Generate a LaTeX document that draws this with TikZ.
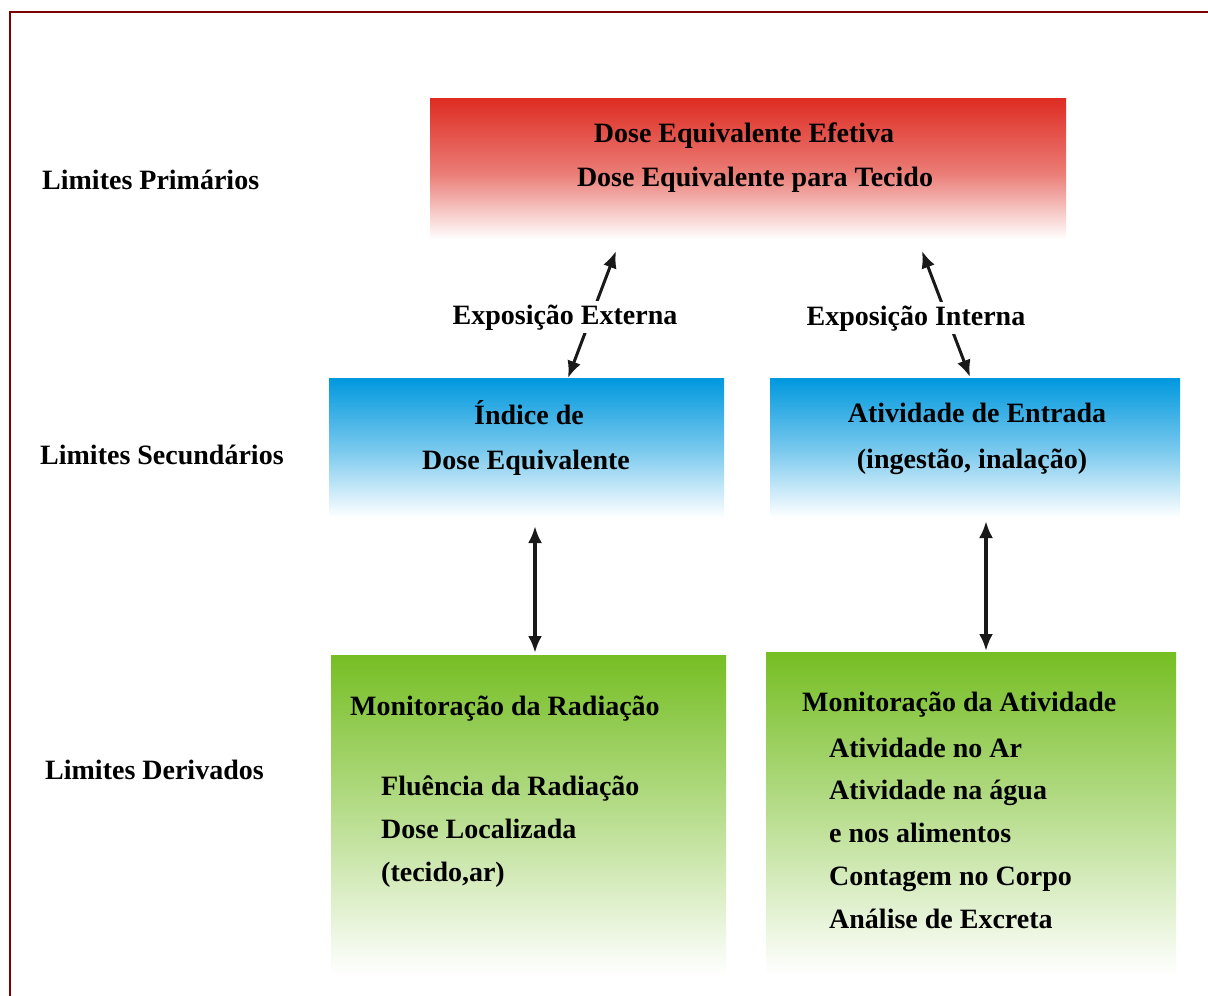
\documentclass[tikz,border=0pt]{standalone}
\usepackage{fontspec}
\setmainfont{Liberation Serif}
\usetikzlibrary{arrows.meta}
\definecolor{framered}{RGB}{128,0,0}
\definecolor{redtop}{RGB}{222,44,34}
\definecolor{bluetop}{RGB}{0,152,222}
\definecolor{greentop}{RGB}{118,190,36}
\pgfdeclareverticalshading{redfade}{100bp}{color(0bp)=(white); color(28bp)=(white); color(50bp)=(redtop!62!white); color(75bp)=(redtop); color(100bp)=(redtop)}
\pgfdeclareverticalshading{bluefade}{100bp}{color(0bp)=(white); color(27bp)=(white); color(50bp)=(bluetop!52!white); color(75bp)=(bluetop); color(100bp)=(bluetop)}
\pgfdeclareverticalshading{greenfade}{100bp}{color(0bp)=(white); color(26bp)=(white); color(52bp)=(greentop!55!white); color(75bp)=(greentop); color(100bp)=(greentop)}
\begin{document}
\begin{tikzpicture}[x=1pt,y=-1pt,
  txt/.style={font=\bfseries\fontsize{28}{43}\selectfont, text=black, inner sep=0pt, anchor=base},
  ltxt/.style={txt, anchor=base west},
  box/.style={draw=none, anchor=north west, inner sep=0pt},
  dbl/.style={{Latex[length=17pt,width=14pt]}-{Latex[length=17pt,width=14pt]}, line width=3pt, black!90},
  vdbl/.style={dbl, line width=3.6pt},
  lab/.style={txt, fill=white, inner sep=3pt}]
\useasboundingbox (0,0) rectangle (1208,996);
\fill[white] (0,0) rectangle (1208,996);
\draw[framered, line width=2.5pt] (10,996) -- (10,12) -- (1208,12);

% boxes
\node[box, minimum width=636pt, minimum height=150pt, shading=redfade] (prim) at (430,98) {};
\node[box, minimum width=395pt, minimum height=145pt, shading=bluefade] (secL) at (329,378) {};
\node[box, minimum width=410pt, minimum height=145pt, shading=bluefade] (secR) at (770,378) {};
\node[box, minimum width=395pt, minimum height=326pt, shading=greenfade] (derL) at (331,655) {};
\node[box, minimum width=410pt, minimum height=329pt, shading=greenfade] (derR) at (766,652) {};

% row labels
\node[ltxt] (lp) at (42,189) {Limites Primários};
\node[ltxt] (ls) at (40,464) {Limites Secundários};
\node[ltxt] (ld) at (45,779) {Limites Derivados};

% primary box text
\node[txt] (p1) at (744,142) {Dose Equivalente Efetiva};
\node[txt] (p2) at (755,186) {Dose Equivalente para Tecido};

% secondary box text
\node[txt] (s1) at (529,424) {Índice de};
\node[txt] (s2) at (526,469) {Dose Equivalente};
\node[txt] (s3) at (977,422) {Atividade de Entrada};
\node[txt] (s4) at (972,468) {(ingestão, inalação)};

% derived box text
\node[ltxt] (d1) at (350,715) {Monitoração da Radiação};
\node[ltxt] (d2) at (381,795) {Fluência da Radiação};
\node[ltxt] (d3) at (381,838) {Dose Localizada};
\node[ltxt] (d4) at (381,881) {(tecido,ar)};

\node[ltxt] (r1) at (802,711) {Monitoração da Atividade};
\node[ltxt] (r2) at (829,757) {Atividade no Ar};
\node[ltxt] (r3) at (829,799) {Atividade na água};
\node[ltxt] (r4) at (829,842) {e nos alimentos};
\node[ltxt] (r5) at (829,885) {Contagem no Corpo};
\node[ltxt] (r6) at (829,928) {Análise de Excreta};

% connectors
\coordinate (exLo) at (568,378);
\coordinate (exHi) at (616,251);
\coordinate (inLo) at (970,377);
\coordinate (inHi) at (922,251);
\coordinate (vL1) at (535,526);
\coordinate (vL2) at (535,653);
\coordinate (vR1) at (986,521);
\coordinate (vR2) at (986,651);
\draw[dbl] (exLo) -- (exHi);
\draw[dbl] (inLo) -- (inHi);
\draw[vdbl] (vL1) -- (vL2);
\draw[vdbl] (vR1) -- (vR2);

\node[lab] (ext) at (565,324) {Exposição Externa};
\node[lab] (int) at (916,325) {Exposição Interna};
\end{tikzpicture}
\end{document}
